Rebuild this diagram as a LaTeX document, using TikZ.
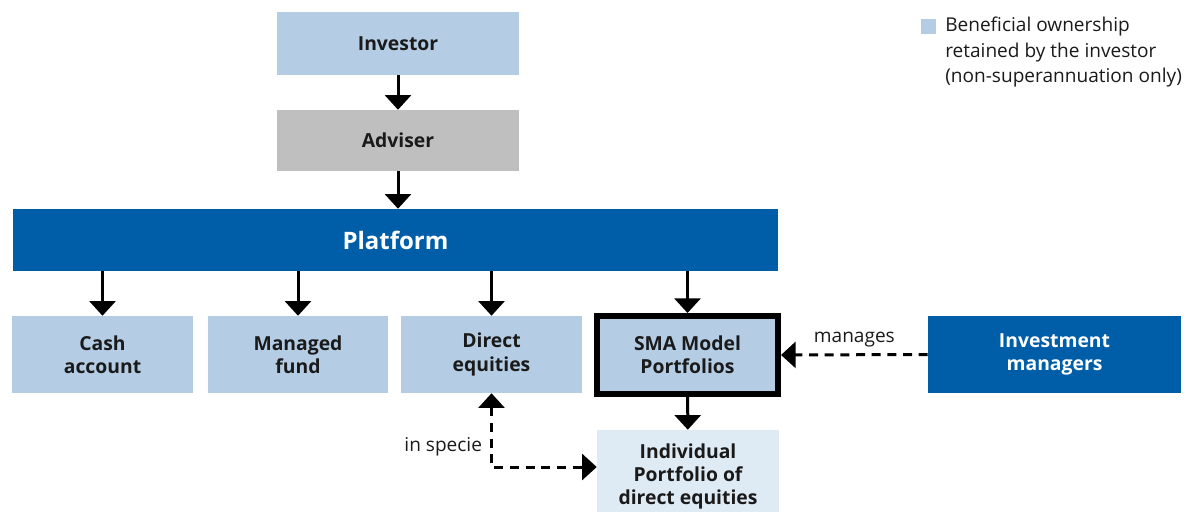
\documentclass[tikz,border=0pt]{standalone}
\usepackage{fontspec}
\setmainfont{Open Sans}
\usetikzlibrary{arrows.meta}
\definecolor{lightblue}{RGB}{180,205,228}
\definecolor{advgrey}{RGB}{191,191,191}
\definecolor{darkblue}{RGB}{0,94,168}
\definecolor{paleblue}{RGB}{222,234,244}
\definecolor{textdark}{RGB}{26,26,26}
\begin{document}
\begin{tikzpicture}[
  x=0.75pt, y=-0.75pt,
  every node/.style = {align=center, inner sep=0pt, text=textdark,
    font=\fontsize{14.5}{17.5}\selectfont\bfseries},
  box/.style = {rectangle, fill=lightblue, minimum width=135.75pt, minimum height=57.75pt},
  darkbox/.style = {rectangle, fill=darkblue, text=white},
  flow/.style = {line width=2.25pt, -{Triangle[width=19.5pt, length=11pt]}},
  dashflow/.style = {flow, dash pattern=on 6.75pt off 5pt},
  label/.style = {font=\fontsize{14.3}{19}\selectfont}
  ]
  \useasboundingbox (0,0) rectangle (1199,511);
  \node[box, minimum width=181.5pt, minimum height=47.25pt] (investor) at (398,43.5) {Investor};
  \node[box, fill=advgrey, minimum width=181.5pt, minimum height=45.75pt] (adviser) at (398,140.5) {Adviser};
  \node[darkbox, minimum width=573.75pt, minimum height=46.5pt,
    font=\fontsize{18}{22}\selectfont\bfseries] (platform) at (395.5,240) {Platform};
  \node[box] (cash) at (102.5,354.5) {Cash\\account};
  \node[box, minimum width=135pt] (managed) at (298,354.5) {Managed\\fund};
  \node[box] (direct) at (491.5,354.5) {Direct\\equities};
  \node[box, draw=black, line width=4.5pt, minimum height=58.5pt] (sma) at (687.5,355) {SMA Model\\Portfolios};
  \node[darkbox, minimum width=189.75pt, minimum height=57.75pt] (invman) at (1054.5,354.5) {Investment\\managers};
  \node[box, fill=paleblue, minimum width=136.5pt, minimum height=69.75pt] (indiv) at (688,476.5) {Individual\\Portfolio of\\direct equities};
  \node[fill=lightblue, minimum size=11.25pt] (legend) at (928.5,26.5) {};
  \node[label, anchor=north west, align=left] (legendtxt) at (945,17) {Beneficial ownership\\retained by the investor\\(non-superannuation only)};

  \draw[flow] (investor) -- (adviser);
  \draw[flow] (adviser) -- (adviser |- platform.north);
  \draw[flow] (platform.south -| cash) -- (cash);
  \draw[flow] (platform.south -| managed) -- (managed);
  \draw[flow] (platform.south -| direct) -- (direct);
  \draw[flow] (platform.south -| sma) -- (sma);
  \draw[flow] (sma) -- (indiv);
  \draw[dashflow] (invman.west) -- (sma.east)
    node[label, midway, above=5pt] (manages) {manages};
  \draw[dashflow, {Triangle[width=19.5pt, length=11pt]}-{Triangle[width=19.5pt, length=11pt]}] (direct.south) |- (indiv.west |- 0,467)
    node[label, pos=0.36, left=6pt] (inspecie) {in specie};
\end{tikzpicture}
\end{document}
